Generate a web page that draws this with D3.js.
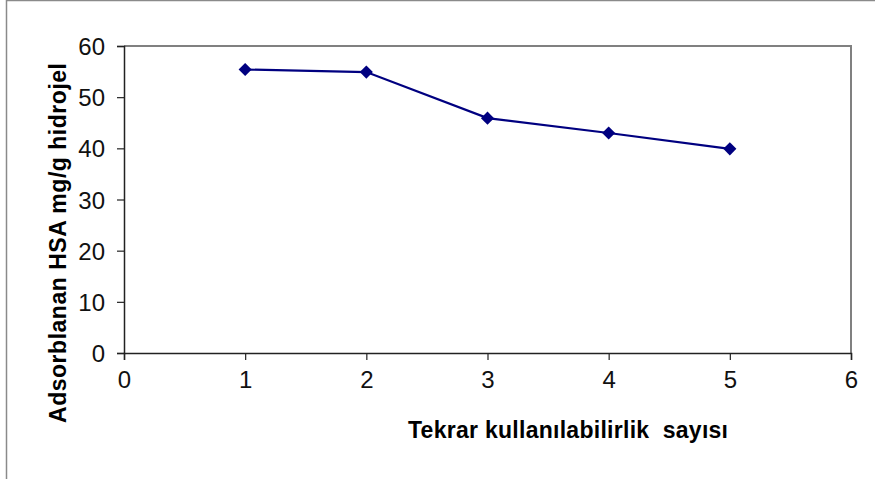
<!DOCTYPE html>
<html>
<head>
<meta charset="utf-8">
<script src="https://cdn.jsdelivr.net/npm/d3@7"></script>
<style>
  body { margin: 0; background: #fff; }
  text { font-family: "Liberation Sans", Arial, sans-serif; }
</style>
</head>
<body>
<script>
// data
const cycles = [1, 2, 3, 4, 5];
const adsorbed = [55.4, 54.9, 45.9, 43, 39.9];
const xTicks = [0, 1, 2, 3, 4, 5, 6];
const yTicks = [0, 10, 20, 30, 40, 50, 60];
const xTitle = "Tekrar kullanılabilirlik  sayısı";
const yTitle = "Adsorblanan HSA mg/g hidrojel";

let width = 875,
    height = 479;

let margin = { top: 46, bottom: 126, left: 124, right: 24 };

let svg = d3.select("body")
            .append("svg")
            .attr("width", width)
            .attr("height", height)
            .style("background", "white");

// outer frame (only left and top edges show)
svg.append("rect")
   .attr("x", 6.5)
   .attr("y", 0.5)
   .attr("width", width + 10)
   .attr("height", height + 10)
   .attr("fill", "none")
   .attr("stroke", "#8a8a8a")
   .attr("stroke-width", 1.5);

let xScale = d3.scaleLinear()
               .domain([0, 6])
               .range([margin.left, width - margin.right]);

let yScale = d3.scaleLinear()
               .domain([0, 60])
               .range([height - margin.bottom, margin.top]);

// plot area border, top and right in gray
svg.append("path")
   .attr("d", `M${xScale(0)},${yScale(60)}H${xScale(6)}V${yScale(0)}`)
   .attr("fill", "none")
   .attr("stroke", "#808080")
   .attr("stroke-width", 2);

let yAxis = svg.append("g")
               .attr("transform", `translate(${margin.left},0)`)
               .call(d3.axisLeft(yScale).tickValues(yTicks).tickSize(7).tickPadding(12).tickFormat(d3.format("d")));

let xAxis = svg.append("g")
               .attr("transform", `translate(0,${height - margin.bottom})`)
               .call(d3.axisBottom(xScale).tickValues(xTicks).tickSize(7).tickPadding(11).tickFormat(d3.format("d")));

[xAxis, yAxis].forEach(a => {
    a.attr("font-size", 24).attr("font-family", "'Liberation Sans', Arial, sans-serif");
    a.select(".domain").attr("stroke", "#222").attr("stroke-width", 1.5);
    a.selectAll(".tick line").attr("stroke", "#222").attr("stroke-width", 1.2);
    a.selectAll(".tick text").attr("fill", "#111");
});
yAxis.selectAll(".tick text").attr("dy", "0.36em");

// series line
const pts = cycles.map((c, i) => [c, adsorbed[i]]);
svg.append("path")
   .datum(pts)
   .attr("fill", "none")
   .attr("stroke", "#000080")
   .attr("stroke-width", 2.2)
   .attr("d", d3.line().x(d => xScale(d[0])).y(d => yScale(d[1])));

svg.selectAll(".marker")
   .data(pts)
   .enter()
   .append("path")
   .attr("class", "marker")
   .attr("transform", d => `translate(${xScale(d[0])},${yScale(d[1])})`)
   .attr("d", d3.symbol().type(d3.symbolDiamond2).size(110))
   .attr("fill", "#000080");

// axis titles
svg.append("text")
   .attr("x", 408)
   .attr("y", 438)
   .attr("textLength", 320)
   .style("font-size", "23px")
   .style("font-weight", "bold")
   .attr("xml:space", "preserve")
   .text(xTitle);

svg.append("text")
   .attr("transform", "translate(66,243) rotate(-90)")
   .attr("text-anchor", "middle")
   .attr("textLength", 360)
   .style("font-size", "23px")
   .style("font-weight", "bold")
   .text(yTitle);
</script>
</body>
</html>
